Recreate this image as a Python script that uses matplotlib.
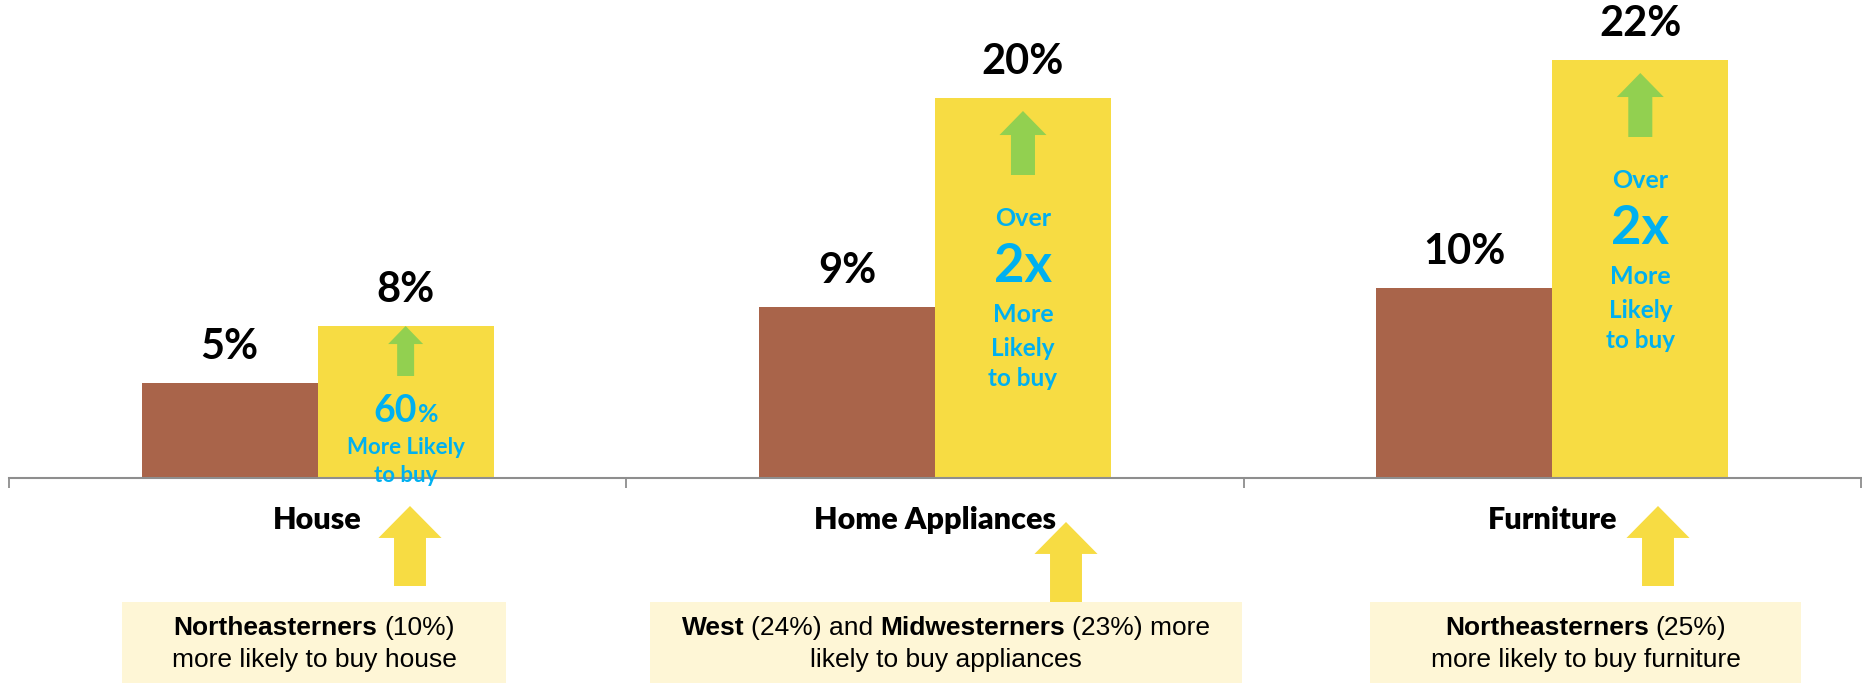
import numpy as np
import matplotlib
matplotlib.use("Agg")
import matplotlib.pyplot as plt
from matplotlib.patches import Rectangle
from matplotlib.offsetbox import TextArea, HPacker, AnnotationBbox
from matplotlib.transforms import offset_copy

# share of buyers, overall vs. the strongest region
categories = ["House", "Home Appliances", "Furniture"]
overall_pct = [5, 9, 10]
region_pct = [8, 20, 22]

# callouts under each category: lines made of (text, bold) pieces
callout_lines = [
    [[("Northeasterners", True), ("(10%)", False)],
     [("more likely to buy house", False)]],
    [[("West", True), ("(24%) and", False), ("Midwesterners", True), ("(23%) more", False)],
     [("likely to buy appliances", False)]],
    [[("Northeasterners", True), ("(25%)", False)],
     [("more likely to buy furniture", False)]],
]

BROWN = "#A9644A"
YELLOW = "#F7DC43"
GREEN = "#92D050"
BLUE = "#00B0F0"
CREAM = "#FEF6D6"
GRAY = "#8E8E8E"
HEAD = "Lato"
BODY = "Liberation Sans"

DPI = 100
W, H = 1862, 683
PT = 72 / DPI          # points per pixel
base_px = 478          # height of the plotting area in pixels
px_per_pct = 19.0

fig = plt.figure(figsize=(W / DPI, H / DPI), dpi=DPI)
ax = fig.add_axes([9 / W, (H - base_px) / H, 1852 / W, base_px / H])
ax.set_xlim(-0.5, 2.5)
ax.set_ylim(0, base_px / px_per_pct)

x = np.arange(len(categories))
bw = 0.285
ax.bar(x - bw / 2, overall_pct, bw, color=BROWN)
ax.bar(x + bw / 2, region_pct, bw, color=YELLOW)

# value labels above every bar
for xs, vals in [(x - bw / 2, overall_pct), (x + bw / 2, region_pct)]:
    for xi, v in zip(xs, vals):
        ax.annotate(f"{v}%", (xi, v), xytext=(0, 36), textcoords="offset pixels",
                    ha="center", va="center", fontsize=30, fontweight="bold",
                    family=HEAD)

# axis: only the baseline with ticks between categories
for side in ["top", "right", "left"]:
    ax.spines[side].set_visible(False)
ax.spines["bottom"].set_color(GRAY)
ax.spines["bottom"].set_linewidth(1.5)
ax.set_yticks([])
ax.set_xticks([-0.5, 0.5, 1.5, 2.5], [""] * 4)
ax.tick_params(axis="x", which="major", direction="out", length=7, width=1.3,
               color=GRAY)
ax.set_xticks(x, categories, minor=True)
ax.tick_params(axis="x", which="minor", length=0, pad=20, labelsize=22)
for lab in ax.get_xticklabels(minor=True):
    lab.set_fontweight("heavy")
    lab.set_family(HEAD)


def arrow_style(head_len, head_w, tail_w):
    return (f"simple,head_length={head_len * PT:.1f},"
            f"head_width={head_w * PT:.1f},tail_width={tail_w * PT:.1f}")


# green up-arrows inside the regional bars: tip drop, tail drop, head len, head w, tail w
green_arrows = [(0, 50, 18, 35, 17), (13, 77, 24, 47, 24), (13, 77, 24, 47, 24)]
for xi, v, (tip, tail, hl, hw, tw) in zip(x + bw / 2, region_pct, green_arrows):
    tip_tr = offset_copy(ax.transData, fig=fig, y=-tip, units="dots")
    ax.annotate("", xy=(xi, v), xycoords=tip_tr,
                xytext=(0, -(tail - tip)), textcoords="offset pixels",
                arrowprops=dict(arrowstyle=arrow_style(hl, hw, tw),
                                mutation_scale=1, fc=GREEN, ec="none",
                                shrinkA=0, shrinkB=0))

# blue notes inside the regional bars: (text, size, drop below top in px)
bar_notes = [
    [("More Likely", 16, 122), ("to buy", 16, 150)],
    [("Over", 18, 121), ("2x", 38, 168), ("More", 18, 217),
     ("Likely", 17.5, 250), ("to buy", 17.5, 281)],
    [("Over", 18, 121), ("2x", 38, 168), ("More", 18, 217),
     ("Likely", 17.5, 250), ("to buy", 17.5, 281)],
]
for xi, v, notes in zip(x + bw / 2, region_pct, bar_notes):
    for txt, size, drop in notes:
        ax.annotate(txt, (xi, v), xytext=(0, -drop), textcoords="offset pixels",
                    ha="center", va="center", color=BLUE, fontsize=size,
                    fontweight="bold", family=HEAD)

# "60%" with a smaller percent sign
big = TextArea("60", textprops=dict(fontsize=27, fontweight="bold", color=BLUE,
                                    family=HEAD))
small = TextArea("%", textprops=dict(fontsize=18, fontweight="bold", color=BLUE,
                                     family=HEAD))
ab = AnnotationBbox(HPacker(children=[big, small], align="baseline", pad=0, sep=1),
                    (x[0] + bw / 2, region_pct[0]), xybox=(0, -85),
                    boxcoords="offset pixels", frameon=False,
                    box_alignment=(0.5, 0.5))
ax.add_artist(ab)

# yellow arrows pointing from the callouts up to the categories
arrow_x = [410, 1066, 1658]
arrow_top = [506, 522, 506]
arrow_bottom = [586, 602, 586]
for ax_x, top, bot in zip(arrow_x, arrow_top, arrow_bottom):
    ax.annotate("", xy=(ax_x, H - top), xycoords="figure pixels",
                xytext=(ax_x, H - bot), textcoords="figure pixels",
                annotation_clip=False,
                arrowprops=dict(arrowstyle=arrow_style(32, 63, 32),
                                mutation_scale=1, fc=YELLOW, ec="none",
                                shrinkA=0, shrinkB=0))

# cream callout boxes with mixed bold / regular text
box_x = [(122, 506), (650, 1242), (1370, 1801)]
box_top = 602
line_y = [628, 660]
for (x0, x1), lines in zip(box_x, callout_lines):
    fig.add_artist(Rectangle((x0 / W, 0), (x1 - x0) / W, (H - box_top) / H,
                             transform=fig.transFigure, fc=CREAM, ec="none"))
    for ly, parts in zip(line_y, lines):
        kids = [TextArea(t, textprops=dict(fontsize=19, family=BODY,
                                           fontweight="bold" if b else "normal"))
                for t, b in parts]
        row = HPacker(children=kids, align="baseline", pad=0, sep=5)
        fig.add_artist(AnnotationBbox(row, ((x0 + x1) / 2, H - ly),
                                      xycoords="figure pixels", frameon=False,
                                      box_alignment=(0.5, 0.5)))

fig.savefig("out.png", dpi=DPI)
